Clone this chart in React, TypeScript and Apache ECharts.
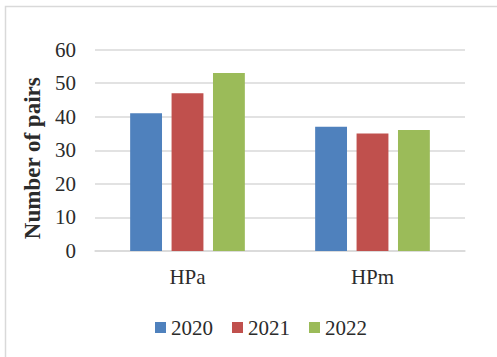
import React, { useEffect, useRef } from "react";
import * as echarts from "echarts";

const categories = ["HPa", "HPm"];
const seriesNames = ["2020", "2021", "2022"];
const values2020 = [41, 37];
const values2021 = [47, 35];
const values2022 = [53, 36];
const colors = ["#4F81BD", "#C0504D", "#9BBB59"];

export default function App() {
  const ref = useRef<HTMLDivElement>(null);
  useEffect(() => {
    if (!ref.current) return;
    const chart = echarts.init(ref.current, undefined, { renderer: "svg" });
    const font = "'Liberation Serif', 'Times New Roman', serif";
    const data = [values2020, values2021, values2022];
    chart.setOption({
      animation: false,
      backgroundColor: "#ffffff",
      textStyle: { fontFamily: font },
      graphic: [
        {
          type: "rect",
          shape: { x: 5.5, y: 6.5, width: 700, height: 700 },
          style: { fill: "none", stroke: "#d9d9d9", lineWidth: 1.5 },
          silent: true,
        },
      ],
      grid: { left: 95, right: 32, top: 49.5, bottom: 106, containLabel: false },
      legend: {
        data: seriesNames,
        bottom: 14,
        left: 150,
        itemWidth: 11,
        itemHeight: 11,
        itemGap: 19,
        icon: "rect",
        textStyle: { fontFamily: font, fontSize: 21, color: "#2b2b2b" },
      },
      xAxis: {
        type: "category",
        data: categories,
        axisLine: { lineStyle: { color: "#d9d9d9", width: 1.5 } },
        axisTick: { show: false },
        axisLabel: { fontFamily: font, fontSize: 21, color: "#2b2b2b", margin: 15 },
      },
      yAxis: {
        type: "value",
        min: 0,
        max: 60,
        interval: 10,
        name: "Number of pairs",
        nameLocation: "middle",
        nameGap: 48,
        nameTextStyle: {
          fontFamily: font,
          fontSize: 23,
          fontWeight: "bold",
          color: "#2b2b2b",
          padding: [0, 16, 0, 0],
        },
        axisLine: { show: false },
        axisTick: { show: false },
        axisLabel: { fontFamily: font, fontSize: 21, color: "#2b2b2b", margin: 19 },
        splitLine: { lineStyle: { color: "#d9d9d9", width: 1.5 } },
      },
      series: seriesNames.map((name, i) => ({
        name,
        type: "bar",
        data: data[i],
        itemStyle: { color: colors[i] },
        barGap: "30%",
        barCategoryGap: "38%",
      })),
    });
    return () => chart.dispose();
  }, []);
  return (
    <div
      ref={ref}
      style={{ position: "fixed", left: 0, top: 0, width: 497, height: 357 }}
    />
  );
}
